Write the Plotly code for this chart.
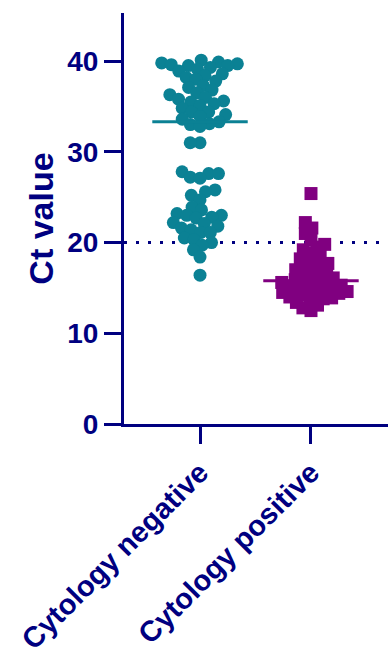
import numpy as np
import plotly.graph_objects as go

categories = ["Cytology negative", "Cytology positive"]

neg_values = [
    40.1, 39.9, 39.8, 39.7, 39.6, 39.5, 39.5, 39.3, 39.1, 38.9,
    38.6, 38.4, 38.2, 38.0, 37.8, 37.3, 37.1, 36.8, 36.5, 36.3,
    36.0, 35.8, 35.6, 35.5, 35.3, 35.1, 34.8, 34.4, 34.4, 34.1,
    33.9, 33.6, 33.3, 33.1, 33.0, 32.8,
    31.0, 31.0,
    27.8, 27.6, 27.6, 27.2, 27.1, 25.8, 25.6, 25.2, 24.7, 23.9,
    23.6, 23.2, 23.0, 23.0, 22.8, 22.7, 22.2, 22.1, 21.8, 21.6,
    21.4, 21.1, 21.1, 20.5, 20.3, 20.0, 19.7, 19.2, 18.4, 16.4,
]

pos_values = [
    25.4, 22.2, 21.6, 21.0, 20.3, 19.8, 19.5, 19.2, 18.8,
    18.5, 18.2, 17.9, 17.7, 17.5, 17.3, 17.0, 16.9, 16.7,
    16.5, 16.3, 16.1, 16.0, 15.9, 15.7, 15.6,
    15.5, 15.4, 15.3, 15.2, 15.0, 14.9, 14.8,
    14.7, 14.6, 14.5, 14.4, 14.3, 14.2, 14.0,
    13.9, 13.8, 13.6, 13.4, 13.1, 12.8, 12.5,
]

medians = [33.3, 15.8]
threshold = 20

NAVY = "#000080"
TEAL = "#0b8194"
PURPLE = "#800080"

# scale (pixels per data unit) used only to arrange the swarm
Y_RANGE = [0, 45.3]
X_RANGE = [-0.685, 1.694]
PLOT_H = 411
PLOT_W = 264
ppu_y = PLOT_H / (Y_RANGE[1] - Y_RANGE[0])
ppu_x = PLOT_W / (X_RANGE[1] - X_RANGE[0])


def swarm(vals, sep):
    """Deterministic beeswarm: returns x offsets (in category units)."""
    vals = list(vals)
    order = sorted(range(len(vals)), key=lambda i: vals[i])
    placed = []
    offs = [0.0] * len(vals)
    for i in order:
        y = vals[i] * ppu_y
        forb = []
        for (px, py) in placed:
            dy = abs(py - y)
            if dy < sep:
                w = np.sqrt(sep ** 2 - dy ** 2)
                forb.append((px - w, px + w))
        cands = [0.0] + [a for a, b in forb] + [b for a, b in forb]
        cands.sort(key=lambda c: (abs(c), c))
        chosen = 0.0
        for c in cands:
            if all(not (a + 1e-6 < c < b - 1e-6) for a, b in forb):
                chosen = c
                break
        placed.append((chosen, y))
        offs[i] = chosen / ppu_x
    return offs


neg_x = [0 + o for o in swarm(neg_values, 9.8)]
pos_x = [1 + o for o in swarm(pos_values, 8.5)]

fig = go.Figure()
fig.add_trace(go.Scatter(
    x=neg_x, y=neg_values, mode="markers",
    marker=dict(symbol="circle", size=13, color=TEAL, line=dict(width=0)),
))
fig.add_trace(go.Scatter(
    x=pos_x, y=pos_values, mode="markers",
    marker=dict(symbol="square", size=13, color=PURPLE, line=dict(width=0)),
))
for i, (m, c) in enumerate(zip(medians, [TEAL, PURPLE])):
    fig.add_trace(go.Scatter(
        x=[i - 0.43, i + 0.43], y=[m, m], mode="lines",
        line=dict(color=c, width=3),
    ))

fig.add_shape(type="line", xref="paper", x0=0, x1=1, yref="y", y0=threshold, y1=threshold,
              line=dict(color=NAVY, width=3, dash="3px,9px"), layer="below")

FONT = "Liberation Sans, Arial"

fig.update_layout(
    width=388, height=659,
    margin=dict(l=124, r=0, t=13, b=235),
    plot_bgcolor="white", paper_bgcolor="white",
    showlegend=False,
    xaxis=dict(
        range=X_RANGE, tickvals=[0, 1], ticktext=categories, tickangle=-45,
        showline=True, linecolor=NAVY, linewidth=3,
        ticks="outside", ticklen=17, tickwidth=3, tickcolor=NAVY,
        tickfont=dict(family=FONT, size=29, color=NAVY, weight="bold"),
        showgrid=False, zeroline=False, automargin=False,
    ),
    yaxis=dict(
        range=Y_RANGE, tickvals=[0, 10, 20, 30, 40],
        showline=True, linecolor=NAVY, linewidth=3,
        ticks="outside", ticklen=17, tickwidth=3, tickcolor=NAVY,
        tickfont=dict(family=FONT, size=28, color=NAVY, weight="bold"),
        showgrid=False, zeroline=False, automargin=False,
        title=dict(text="Ct value", standoff=4,
                   font=dict(family=FONT, size=34, color=NAVY, weight="bold")),
    ),
)

fig.write_html("out.html", config={"displayModeBar": False})
